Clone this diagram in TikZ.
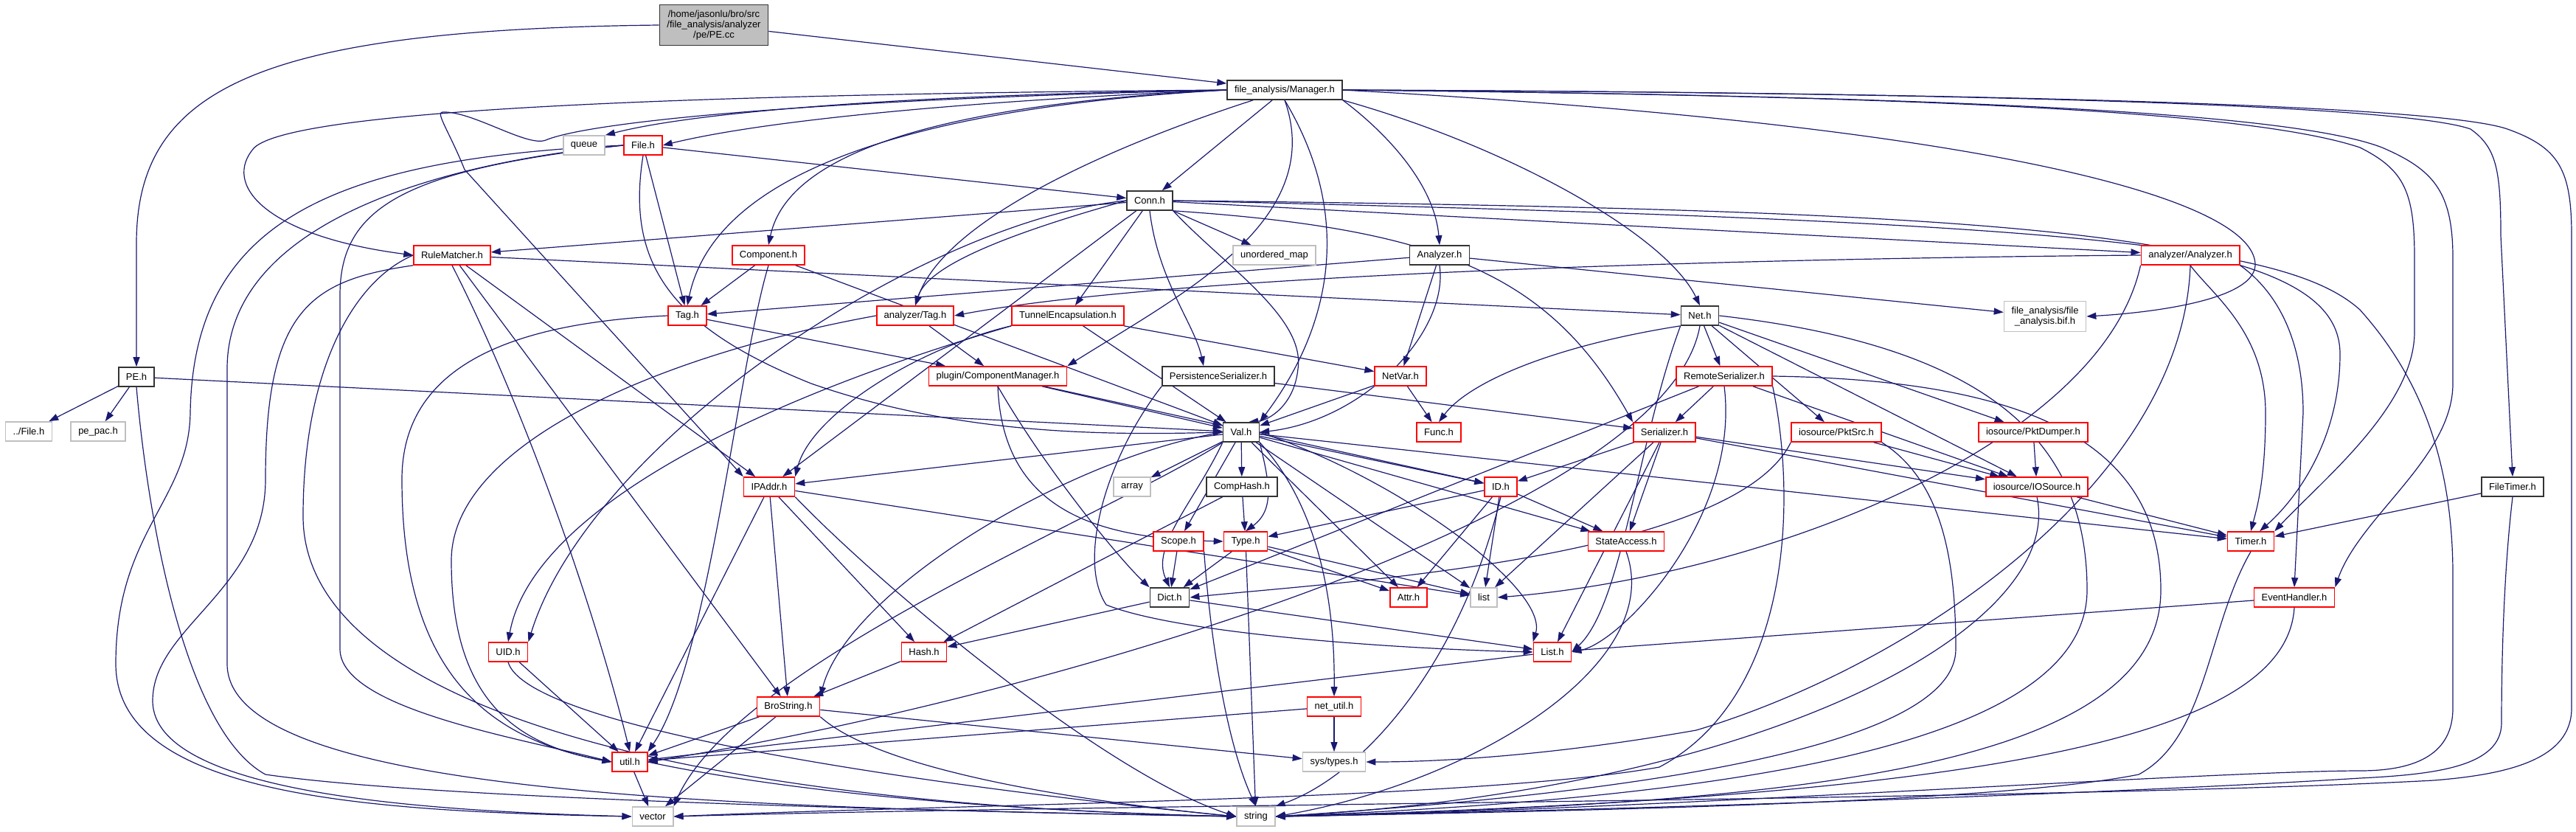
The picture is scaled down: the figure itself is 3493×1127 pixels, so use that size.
\documentclass[tikz,border=0pt]{standalone}
\usepackage{fontspec}
\setmainfont{Liberation Sans}
\usepackage{xcolor}
\usepackage{tikz}
\usetikzlibrary{arrows.meta, backgrounds}

\definecolor{edgeblue}{RGB}{25,25,112}
\definecolor{boxgrey}{RGB}{191,191,191}

\begin{document}
\begin{tikzpicture}[
    x=1pt, y=-1pt,
    box/.style={rectangle, draw, fill=white, line width=1.6pt, minimum height=26pt, inner xsep=10pt, inner ysep=2pt, font=\fontsize{13}{14}\selectfont},
    redbox/.style={box, draw=red},
    greybox/.style={box, draw=boxgrey},
    docbox/.style={box, draw=black!80},
    rootbox/.style={box, draw=black!80, fill=boxgrey, align=center, minimum height=55pt},
    arrow/.style={-{Triangle[length=13pt,width=9pt]}, draw=edgeblue, line width=1.2pt}
]
\useasboundingbox (0,0) rectangle (3493,1127);

% header files, row by row
\node[rootbox] (pecc) at (968,34) {/home/jasonlu/bro/src\\/file\_analysis/analyzer\\/pe/PE.cc};
\node[docbox] (manager) at (1742,122) {file\_analysis/Manager.h};
\node[greybox] (queue) at (792,197) {queue};
\node[redbox] (fileh) at (872,197) {File.h};
\node[docbox] (conn) at (1559,272) {Conn.h};
\node[redbox] (rulematcher) at (613,346) {RuleMatcher.h};
\node[redbox] (component) at (1042,346) {Component.h};
\node[greybox] (umap) at (1728,346) {unordered\_map};
\node[docbox] (fanalyzer) at (1952,346) {Analyzer.h};
\node[redbox] (aanalyzer) at (2970,346) {analyzer/Analyzer.h};
\node[redbox] (tagh) at (932,428) {Tag.h};
\node[redbox] (atag) at (1241,428) {analyzer/Tag.h};
\node[redbox] (tunnel) at (1448,428) {TunnelEncapsulation.h};
\node[docbox] (net) at (2305,428) {Net.h};
\node[greybox, align=center, minimum height=41pt] (bif) at (2773,429) {file\_analysis/file\\\_analysis.bif.h};
\node[docbox] (peh) at (185,511) {PE.h};
\node[greybox] (filedot) at (39,585) {../File.h};
\node[greybox] (pepac) at (133,585) {pe\_pac.h};
\node[redbox] (compmgr) at (1353,510) {plugin/ComponentManager.h};
\node[docbox] (persist) at (1652,510) {PersistenceSerializer.h};
\node[redbox] (netvar) at (1899,510) {NetVar.h};
\node[redbox] (remote) at (2338,510) {RemoteSerializer.h};
\node[docbox] (val) at (1683,586) {Val.h};
\node[redbox] (func) at (1951,586) {Func.h};
\node[redbox] (serializer) at (2257,586) {Serializer.h};
\node[redbox] (pktsrc) at (2490,586) {iosource/PktSrc.h};
\node[redbox] (pktdumper) at (2757,586) {iosource/PktDumper.h};
\node[redbox] (ipaddr) at (1043,660) {IPAddr.h};
\node[greybox] (array) at (1535,660) {array};
\node[docbox] (comphash) at (1684,660) {CompHash.h};
\node[redbox] (idh) at (2035,660) {ID.h};
\node[redbox] (iosource) at (2762,660) {iosource/IOSource.h};
\node[docbox] (filetimer) at (3407,660) {FileTimer.h};
\node[redbox] (scope) at (1598,734) {Scope.h};
\node[redbox] (type) at (1689,734) {Type.h};
\node[redbox] (stateaccess) at (2205,734) {StateAccess.h};
\node[redbox] (timer) at (3052,734) {Timer.h};
\node[docbox] (dict) at (1586,810) {Dict.h};
\node[redbox] (attr) at (1910,810) {Attr.h};
\node[greybox] (list) at (2012,810) {list};
\node[redbox] (evhandler) at (3111,810) {EventHandler.h};
\node[redbox] (uid) at (689,884) {UID.h};
\node[redbox] (hash) at (1253,884) {Hash.h};
\node[redbox] (listh) at (2105,884) {List.h};
\node[redbox] (brostring) at (1069,958) {BroString.h};
\node[redbox] (netutil) at (1809,958) {net\_util.h};
\node[redbox] (util) at (854,1033) {util.h};
\node[greybox] (systypes) at (1809,1033) {sys/types.h};
\node[greybox] (vector) at (885,1107) {vector};
\node[greybox] (string) at (1703,1107) {string};

\begin{scope}[on background layer]
% PE.cc and PE.h
\draw[arrow] (pecc.west) .. controls (350,40) and (185,120) .. (185,330) -- (peh.north);
\draw[arrow] (pecc) -- (manager);
\draw[arrow] (peh) -- (filedot);
\draw[arrow] (peh) -- (pepac);
\draw[arrow] (peh) -- (val);
\draw[arrow] (peh.south) .. controls (200,700) and (250,990) .. (360,1050) .. controls (600,1085) and (1300,1100) .. (string.west);

% Manager.h
\draw[arrow] (manager.west) .. controls (1250,128) and (950,150) .. (queue.north east);
\draw[arrow] (manager.west) .. controls (1350,135) and (1050,160) .. (fileh.east);
\draw[arrow] (manager.west) .. controls (900,128) and (400,150) .. (345,200) .. controls (300,250) and (360,320) .. (rulematcher.west);
\draw[arrow] (manager.west) .. controls (1250,145) and (970,230) .. (tagh.north);
\draw[arrow] (manager.west) .. controls (1300,140) and (1070,200) .. (component.north);
\draw[arrow] (manager.west) .. controls (1100,135) and (800,165) .. (740,190) .. controls (715,200) and (640,150) .. (600,152) .. controls (590,152) and (610,180) .. (630,230) -- (ipaddr.north west);
\draw[arrow] (manager) .. controls (1500,200) and (1280,300) .. (atag.north);
\draw[arrow] (manager.south) .. controls (1800,300) and (1600,400) .. (compmgr.north east);
\draw[arrow] (manager) -- (conn);
\draw[arrow] (manager.south) .. controls (1840,300) and (1800,450) .. (val.north east);
\draw[arrow] (manager.south east) .. controls (1880,180) and (1945,250) .. (fanalyzer.north);
\draw[arrow] (manager.south east) .. controls (2050,200) and (2260,320) .. (net.north);
\draw[arrow] (manager.east) .. controls (2700,170) and (3060,270) .. (3058,360) .. controls (3055,410) and (2900,425) .. (bif.east);
\draw[arrow] (manager.east) .. controls (2600,130) and (3050,150) .. (3200,200) .. controls (3260,230) and (3274,260) .. (3274,350) -- (3274,450) .. controls (3274,550) and (3150,650) .. (timer.north east);
\draw[arrow] (manager.east) .. controls (2600,130) and (3100,150) .. (3230,200) .. controls (3300,230) and (3326,260) .. (3326,350) -- (3326,520) .. controls (3326,620) and (3200,700) .. (evhandler.north east);
\draw[arrow] (manager.east) .. controls (2600,125) and (3250,140) .. (3350,175) .. controls (3385,200) and (3391,230) .. (3391,320) -- (filetimer.north);
\draw[arrow] (manager.east) .. controls (2600,125) and (3300,140) .. (3400,175) .. controls (3470,200) and (3487,230) .. (3487,320) -- (3487,960) .. controls (3487,1030) and (3400,1050) .. (3300,1058) .. controls (2800,1085) and (1500,1090) .. (vector.east);

% Conn.h
\draw[arrow] (conn) -- (rulematcher);
\draw[arrow] (conn) -- (umap);
\draw[arrow] (conn.west) .. controls (1320,330) and (1255,370) .. (atag.north);
\draw[arrow] (conn) -- (tunnel);
\draw[arrow] (conn.south) .. controls (1570,380) and (1620,440) .. ([xshift=-20pt]persist.north);
\draw[arrow] (conn.south east) .. controls (1660,360) and (1770,430) .. (1760,500) .. controls (1755,550) and (1720,570) .. ([xshift=10pt]val.north);
\draw[arrow] (conn.south east) .. controls (1950,310) and (2100,370) .. (serializer.north west);
\draw[arrow] (conn) -- (aanalyzer);
\draw[arrow] (conn.east) .. controls (2800,285) and (3173,320) .. (3173,480) .. controls (3173,600) and (3110,680) .. ([xshift=12pt]timer.north);
\draw[arrow] (conn.east) .. controls (2800,300) and (3100,330) .. (3200,420) .. controls (3290,520) and (3326,640) .. (3326,780) -- (3326,960) .. controls (3326,1020) and (3280,1045) .. (3200,1045) .. controls (3000,1045) and (2200,1100) .. (string.east);
\draw[arrow] (conn) -- (ipaddr);
\draw[arrow] (conn.west) .. controls (1250,300) and (800,600) .. (uid.north east);

% File.h
\draw[arrow] (fileh) -- (conn);
\draw[arrow] (fileh) -- (tagh);
\draw[arrow] (fileh.south) .. controls (850,350) and (900,440) .. (1100,520) .. controls (1300,590) and (1500,590) .. (val.west);
\draw[arrow] (fileh.west) .. controls (450,215) and (262,300) .. (258,560) .. controls (256,680) and (157,720) .. (157,900) .. controls (157,1080) and (500,1100) .. (vector.west);
\draw[arrow] (fileh.west) .. controls (600,220) and (308,300) .. (308,500) -- (308,900) .. controls (308,1080) and (1000,1095) .. (string.west);
\draw[arrow] (fileh.west) .. controls (550,230) and (461,280) .. (461,400) -- (461,880) .. controls (461,960) and (700,1000) .. (util.west);

% RuleMatcher.h
\draw[arrow] (rulematcher) -- (net);
\draw[arrow] (rulematcher) -- (ipaddr);
\draw[arrow] (rulematcher) -- (brostring);
\draw[arrow] (rulematcher.south) .. controls (700,530) and (800,800) .. (util.north);
\draw[arrow] (rulematcher.south west) .. controls (420,380) and (360,420) .. (360,650) .. controls (360,800) and (207,850) .. (207,950) .. controls (207,1080) and (600,1100) .. (vector.west);
\draw[arrow] (rulematcher.west) .. controls (480,380) and (411,500) .. (411,700) .. controls (411,950) and (900,1090) .. (string.west);

% Component.h, Analyzer.h, analyzer/Analyzer.h
\draw[arrow] (component) -- (tagh);
\draw[arrow] (component) -- (val);
\draw[arrow] (component.south) .. controls (1000,500) and (960,900) .. (util.north east);
\draw[arrow] (fanalyzer) -- (tagh);
\draw[arrow] (fanalyzer.south) .. controls (1965,450) and (1850,570) .. (val.east);
\draw[arrow] (fanalyzer) -- (netvar);
\draw[arrow] (fanalyzer) -- (bif);
\draw[arrow] (aanalyzer.west) .. controls (2400,350) and (1600,370) .. (atag.east);
\draw[arrow] (aanalyzer.south) .. controls (3000,400) and (3072,450) .. (3072,560) .. controls (3072,650) and (3060,690) .. (timer.north);
\draw[arrow] (aanalyzer.south east) .. controls (3080,390) and (3123,450) .. (3123,560) -- (evhandler.north);
\draw[arrow] (aanalyzer.south) .. controls (2960,650) and (2600,900) .. (2300,990) .. controls (2100,1025) and (1950,1033) .. (systypes.east);
\draw[arrow] (aanalyzer.south west) .. controls (2850,600) and (2400,780) .. (list.east);

% Tag.h, analyzer/Tag.h, TunnelEncapsulation.h
\draw[arrow] (tagh) -- (compmgr);
\draw[arrow] (tagh.west) .. controls (650,440) and (545,520) .. (545,650) .. controls (545,900) and (650,1000) .. (util.west);
\draw[arrow] (atag) -- (compmgr);
\draw[arrow] (atag.west) .. controls (900,480) and (612,600) .. (612,760) .. controls (612,950) and (700,1010) .. (util.west);
\draw[arrow] (tunnel) -- (netvar);
\draw[arrow] (tunnel.south west) .. controls (1250,470) and (1100,560) .. (ipaddr.north east);
\draw[arrow] (tunnel) -- (val);
\draw[arrow] (tunnel.south west) .. controls (1000,550) and (720,700) .. (uid.north);

% Net.h, RemoteSerializer.h, Serializer.h
\draw[arrow] (net) -- (remote);
\draw[arrow] (net.south west) .. controls (2100,470) and (1990,520) .. (func.north);
\draw[arrow] (net) -- (pktsrc);
\draw[arrow] (net) -- (pktdumper);
\draw[arrow] (net) -- (iosource);
\draw[arrow] (net.south west) .. controls (2220,600) and (2200,820) .. (listh.east);
\draw[arrow] (net.south) .. controls (2260,700) and (1400,950) .. (util.east);
\draw[arrow] (net.east) .. controls (2700,470) and (2830,600) .. (2830,800) .. controls (2830,1000) and (2400,1080) .. (string.east);
\draw[arrow] (remote) -- (serializer);
\draw[arrow] (remote) -- (iosource);
\draw[arrow] (remote) -- (dict);
\draw[arrow] (remote.south) .. controls (2360,700) and (2200,870) .. (listh.east);
\draw[arrow] (remote.south east) .. controls (2440,700) and (2420,950) .. (2250,1040) .. controls (2000,1085) and (1300,1090) .. (vector.east);
\draw[arrow] (remote.east) .. controls (2750,515) and (2930,600) .. (2930,800) .. controls (2930,1050) and (2400,1090) .. (string.east);
\draw[arrow] (serializer) -- (idh);
\draw[arrow] (serializer) -- (stateaccess);
\draw[arrow] (serializer) -- (list);
\draw[arrow] (serializer) -- (listh);
\draw[arrow] (serializer) -- (timer);
\draw[arrow] (serializer) -- (iosource);

% iosource, timers, events
\draw[arrow] (pktsrc) -- (iosource);
\draw[arrow] (pktsrc.south west) .. controls (2350,760) and (1800,790) .. (dict.east);
\draw[arrow] (pktsrc.south east) .. controls (2630,650) and (2652,750) .. (2652,880) .. controls (2652,1000) and (2300,1070) .. (string.east);
\draw[arrow] (pktdumper) -- (iosource);
\draw[arrow] (iosource) -- (timer);
\draw[arrow] (iosource.south) .. controls (2800,850) and (2400,1070) .. (string.east);
\draw[arrow] (filetimer) -- (timer);
\draw[arrow] (filetimer.south) .. controls (3392,800) and (3392,950) .. (3392,980) .. controls (3392,1040) and (3300,1050) .. (3200,1055) .. controls (2800,1080) and (2100,1100) .. (string.east);
\draw[arrow] (timer.south) .. controls (2993,850) and (2993,1000) .. (2900,1050) .. controls (2700,1090) and (2100,1100) .. (string.east);
\draw[arrow] (evhandler) -- (listh);
\draw[arrow] (evhandler.south) .. controls (3100,1000) and (2700,1080) .. (string.east);

% ComponentManager.h, PersistenceSerializer.h
\draw[arrow] (compmgr) -- (val);
\draw[arrow] (compmgr.south) .. controls (1360,700) and (1500,730) .. (type.west);
\draw[arrow] (compmgr) -- (idh);
\draw[arrow] (compmgr.south) .. controls (1420,640) and (1520,760) .. (dict.north west);
\draw[arrow] (persist) -- (serializer);
\draw[arrow] (persist.south west) .. controls (1500,620) and (1460,760) .. (1500,820) .. controls (1600,860) and (1900,880) .. (listh.west);

% Val.h
\draw[arrow] (val) -- (array);
\draw[arrow] (val) -- (comphash);
\draw[arrow] (val) -- (scope);
\draw[arrow] (val.south west) .. controls (1620,680) and (1560,740) .. (dict.north);
\draw[arrow] (val.south east) .. controls (1720,650) and (1730,690) .. (type.north);
\draw[arrow] (val) -- (attr);
\draw[arrow] (val) -- (list);
\draw[arrow] (val) -- (idh);
\draw[arrow] (val) -- (stateaccess);
\draw[arrow] (val) -- (timer);
\draw[arrow] (val) -- (ipaddr);
\draw[arrow] (val.west) .. controls (1450,620) and (1150,800) .. (brostring.north east);
\draw[arrow] (val.south east) .. controls (1800,700) and (1810,850) .. (netutil.north);
\draw[arrow] (val.south west) .. controls (1500,700) and (1000,900) .. (vector.north east);
\draw[arrow] (val.east) .. controls (1900,650) and (2100,800) .. (listh.north west);

% lower rows
\draw[arrow] (netvar) -- (val);
\draw[arrow] (netvar) -- (func);
\draw[arrow] (comphash) -- (type);
\draw[arrow] (comphash) -- (hash);
\draw[arrow] (scope) -- (dict);
\draw[arrow] (scope.south east) .. controls (1640,850) and (1660,1000) .. (string.north);
\draw[arrow] (type) -- (dict);
\draw[arrow] (type) -- (attr);
\draw[arrow] (type) -- (list);
\draw[arrow] (type) -- (string);
\draw[arrow] (idh) -- (type);
\draw[arrow] (idh) -- (attr);
\draw[arrow] (idh) -- (stateaccess);
\draw[arrow] (idh) -- (list);
\draw[arrow] (idh.south) .. controls (1980,900) and (1850,1050) .. (string.north east);
\draw[arrow] (stateaccess.south) .. controls (2260,900) and (2000,1060) .. (string.east);
\draw[arrow] (ipaddr) -- (brostring);
\draw[arrow] (ipaddr) -- (hash);
\draw[arrow] (ipaddr) -- (util);
\draw[arrow] (ipaddr) -- (list);
\draw[arrow] (ipaddr.south east) .. controls (1200,800) and (1500,1050) .. (string.west);
\draw[arrow] (dict) -- (listh);
\draw[arrow] (dict) -- (hash);
\draw[arrow] (hash) -- (brostring);
\draw[arrow] (listh) -- (util);
\draw[arrow] (uid) -- (util);
\draw[arrow] (uid.south) .. controls (720,1000) and (1400,1080) .. (string.west);
\draw[arrow] (brostring) -- (util);
\draw[arrow] (brostring) -- (vector);
\draw[arrow] (brostring.south east) .. controls (1200,1050) and (1500,1090) .. (string.west);
\draw[arrow] (brostring) -- (systypes);
\draw[arrow] (netutil) -- (systypes);
\draw[arrow] (netutil) -- (util);
\draw[arrow] (util) -- (vector);
\draw[arrow] (util.east) .. controls (1100,1080) and (1400,1100) .. (string.west);
\end{scope}
\end{tikzpicture}
\end{document}
